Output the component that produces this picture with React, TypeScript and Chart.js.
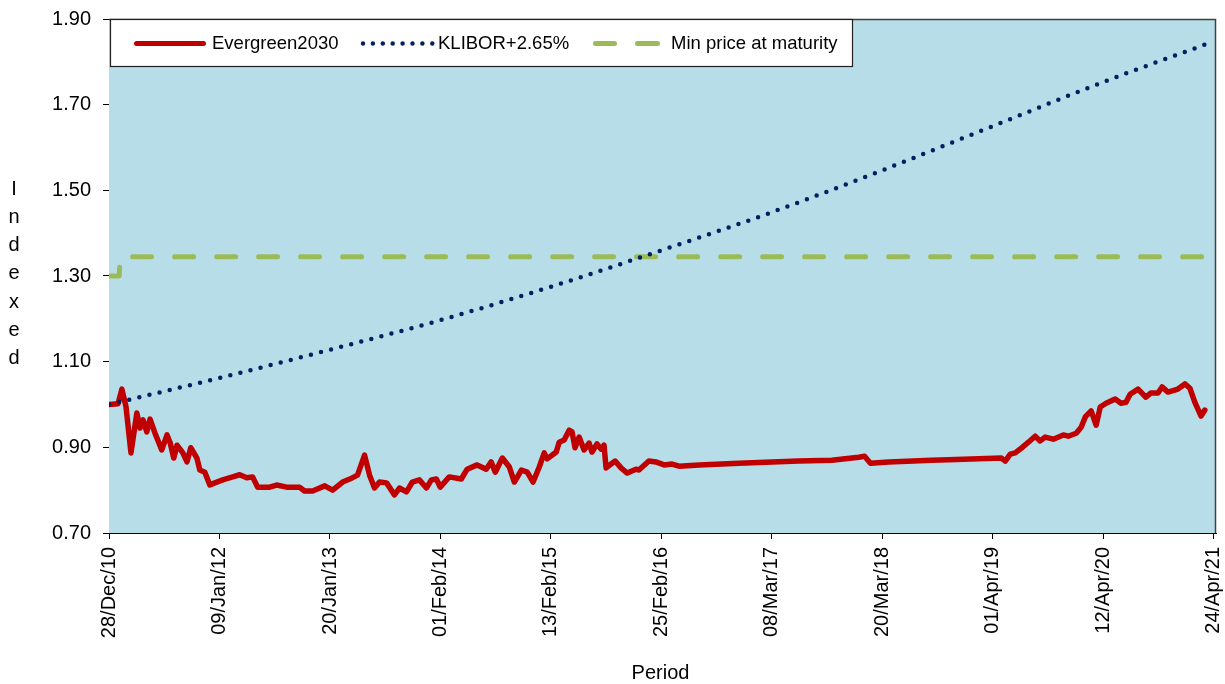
import React, { useEffect, useRef } from 'react';
import { Chart, registerables } from 'chart.js';

Chart.register(...registerables);

// X axis: day offsets from 28/Dec/10 and their labels
const tickDays = [0, 377, 754, 1131, 1508, 1885, 2262, 2639, 3016, 3393, 3770];
const tickLabels = [
  '28/Dec/10', '09/Jan/12', '20/Jan/13', '01/Feb/14', '13/Feb/15', '25/Feb/16',
  '08/Mar/17', '20/Mar/18', '01/Apr/19', '12/Apr/20', '24/Apr/21',
];
const yTicks = [0.7, 0.9, 1.1, 1.3, 1.5, 1.7, 1.9];

// Evergreen2030 (day offset, indexed value)
const evergreenDays = [
  0, 31, 44, 58, 75, 95, 106, 116, 129, 140, 157, 180, 198, 208, 221, 232, 252, 266, 279, 300,
  310, 327, 344, 361, 388, 422, 446, 470, 490, 507, 548, 572, 606, 650,
  667, 695, 736, 763, 797, 828, 848, 872, 889, 906, 923, 947, 974,
  991, 1015, 1035, 1059, 1083, 1100, 1117, 1130, 1161, 1202, 1222, 1256, 1287, 1304, 1318, 1342,
  1366, 1383, 1407, 1427, 1447, 1468, 1485, 1495, 1526, 1536, 1553, 1570, 1580, 1590, 1604, 1621,
  1638, 1648, 1665, 1679, 1689, 1696, 1713, 1727, 1747, 1768, 1798, 1808, 1842, 1866, 1894, 1921,
  1945, 2013, 2149, 2353, 2466, 2558, 2578, 2598, 2660, 2806, 2864,
  3045, 3058, 3075, 3092, 3109, 3137, 3160, 3177, 3194, 3222, 3256, 3273, 3300, 3317, 3331, 3351,
  3368, 3382, 3402, 3433, 3453, 3470, 3484, 3511, 3538, 3555, 3579, 3593, 3613, 3647, 3671, 3688,
  3705, 3726, 3739,
];
const evergreenValues = [
  1.0, 1.002, 1.036, 0.995, 0.887, 0.98, 0.945, 0.964, 0.936, 0.966, 0.933, 0.894, 0.929, 0.912, 0.875, 0.905, 0.887, 0.866, 0.899, 0.875,
  0.847, 0.842, 0.812, 0.817, 0.824, 0.831, 0.836, 0.829, 0.831, 0.807, 0.807, 0.812, 0.807, 0.807,
  0.798, 0.798, 0.81, 0.8, 0.819, 0.828, 0.835, 0.882, 0.835, 0.805, 0.819, 0.817, 0.789,
  0.805, 0.796, 0.819, 0.824, 0.805, 0.824, 0.826, 0.807, 0.831, 0.826, 0.849, 0.859, 0.849, 0.866, 0.842, 0.875,
  0.854, 0.819, 0.847, 0.842, 0.819, 0.854, 0.887, 0.873, 0.889, 0.912, 0.917, 0.94, 0.936, 0.899, 0.924, 0.894,
  0.91, 0.889, 0.908, 0.896, 0.905, 0.852, 0.861, 0.868, 0.852, 0.84, 0.849, 0.847, 0.868, 0.866, 0.859, 0.861,
  0.856, 0.859, 0.863, 0.868, 0.87, 0.877, 0.879, 0.863, 0.866, 0.87, 0.871,
  0.875, 0.868, 0.884, 0.887, 0.896, 0.912, 0.926, 0.915, 0.924, 0.919, 0.929, 0.926, 0.933, 0.947, 0.971, 0.985,
  0.952, 0.994, 1.003, 1.013, 1.003, 1.005, 1.024, 1.036, 1.017, 1.027, 1.027, 1.041, 1.029, 1.036, 1.048, 1.038,
  1.005, 0.973, 0.987,
];

// KLIBOR+2.65%
const kliborDays = [0, 377, 754, 1131, 1508, 1885, 2262, 2639, 3016, 3393, 3738];
const kliborValues = [1.0, 1.062, 1.128, 1.197, 1.275, 1.36, 1.449, 1.547, 1.65, 1.753, 1.84];

// Min price at maturity
const minPriceDays = [0, 35, 38, 3740];
const minPriceValues = [1.3, 1.3, 1.345, 1.345];

const FONT = '"Liberation Sans", Arial, sans-serif';

const toPoints = (xs: number[], ys: number[]) => xs.map((x, i) => ({ x, y: ys[i] }));

const decorPlugin = {
  id: 'decor',
  beforeDatasetsDraw(chart: any) {
    const { ctx, chartArea: a } = chart;
    ctx.save();
    ctx.fillStyle = '#B7DDE8';
    ctx.fillRect(a.left, a.top, a.right - a.left, a.bottom - a.top);
    ctx.restore();
  },
  afterDatasetsDraw(chart: any) {
    const { ctx, chartArea: a } = chart;
    ctx.save();
    // plot border (top/right)
    ctx.strokeStyle = '#404040';
    ctx.lineWidth = 1.5;
    ctx.beginPath();
    ctx.moveTo(a.left, a.top + 0.5);
    ctx.lineTo(a.right - 0.5, a.top + 0.5);
    ctx.lineTo(a.right - 0.5, a.bottom);
    ctx.stroke();

    // legend box
    const lx = a.left + 1;
    const ly = a.top;
    const lw = 743;
    const lh = 48;
    ctx.fillStyle = '#FFFFFF';
    ctx.fillRect(lx, ly, lw, lh);
    ctx.strokeStyle = '#202020';
    ctx.lineWidth = 1.2;
    ctx.strokeRect(lx + 0.5, ly + 0.5, lw - 1, lh - 1);
    const cy = ly + 24.5;
    ctx.lineCap = 'round';
    // red sample
    ctx.strokeStyle = '#C00000';
    ctx.lineWidth = 5;
    ctx.beginPath();
    ctx.moveTo(lx + 26.5, cy);
    ctx.lineTo(lx + 93.5, cy);
    ctx.stroke();
    // dotted sample
    ctx.strokeStyle = '#002060';
    ctx.lineWidth = 4.5;
    ctx.setLineDash([0, 9.9]);
    ctx.beginPath();
    ctx.moveTo(lx + 253, cy);
    ctx.lineTo(lx + 323, cy);
    ctx.stroke();
    ctx.setLineDash([]);
    // green sample
    ctx.strokeStyle = '#9BBB59';
    ctx.lineWidth = 5;
    ctx.beginPath();
    ctx.moveTo(lx + 485.5, cy);
    ctx.lineTo(lx + 504.5, cy);
    ctx.moveTo(lx + 527.5, cy);
    ctx.lineTo(lx + 547.5, cy);
    ctx.stroke();
    // texts
    ctx.fillStyle = '#000000';
    ctx.font = `18.5px ${FONT}`;
    ctx.textBaseline = 'middle';
    ctx.textAlign = 'left';
    ctx.fillText('Evergreen2030', lx + 102, cy);
    ctx.fillText('KLIBOR+2.65%', lx + 328, cy);
    ctx.fillText('Min price at maturity', lx + 561, cy);

    // y title: stacked letters
    ctx.font = `20px ${FONT}`;
    ctx.textAlign = 'center';
    const letters = 'Indexed'.split('');
    letters.forEach((ch, i) => ctx.fillText(ch, 14, 189 + i * 28.3));

    // x title
    ctx.fillText('Period', (a.left + a.right) / 2 - 2, 673);
    ctx.restore();
  },
};

export default function App() {
  const ref = useRef<HTMLCanvasElement | null>(null);

  useEffect(() => {
    document.body.style.margin = '0';
    const canvas = ref.current;
    if (!canvas) return;
    const chart = new Chart(canvas, {
      type: 'line',
      data: {
        datasets: [
          {
            label: 'KLIBOR+2.65%',
            data: toPoints(kliborDays, kliborValues),
            borderColor: '#002060',
            borderWidth: 4.5,
            borderDash: [0, 10.4],
            borderCapStyle: 'round',
            pointRadius: 0,
            tension: 0.4,
            cubicInterpolationMode: 'monotone',
            fill: false,
          },
          {
            label: 'Evergreen2030',
            data: toPoints(evergreenDays, evergreenValues),
            borderColor: '#C00000',
            borderWidth: 5.5,
            borderJoinStyle: 'round',
            borderCapStyle: 'round',
            pointRadius: 0,
            tension: 0,
            fill: false,
          },
          {
            label: 'Min price at maturity',
            data: toPoints(minPriceDays, minPriceValues),
            borderColor: '#9BBB59',
            borderWidth: 5,
            borderDash: [19, 23],
            borderCapStyle: 'round',
            borderJoinStyle: 'round',
            pointRadius: 0,
            tension: 0,
            fill: false,
          },
        ],
      },
      options: {
        animation: false,
        responsive: true,
        maintainAspectRatio: false,
        layout: { padding: { top: 19, right: 9, left: 0, bottom: 0 } },
        plugins: { legend: { display: false }, tooltip: { enabled: false } },
        scales: {
          x: {
            type: 'linear',
            min: 0,
            max: 3777,
            afterBuildTicks: (s: any) => {
              s.ticks = tickDays.map((v) => ({ value: v }));
            },
            afterFit: (s: any) => {
              s.height = 151;
              s.paddingLeft = 0;
              s.paddingRight = 0;
            },
            grid: {
              display: true,
              drawOnChartArea: false,
              drawTicks: true,
              tickLength: 6,
              color: '#000000',
            },
            border: { display: true, color: '#000000', width: 1 },
            ticks: {
              autoSkip: false,
              maxRotation: 90,
              minRotation: 90,
              padding: 8,
              color: '#000000',
              font: { family: FONT, size: 20 },
              callback: (v: any) => {
                const i = tickDays.indexOf(Number(v));
                return i >= 0 ? tickLabels[i] : '';
              },
            },
          },
          y: {
            type: 'linear',
            min: 0.7,
            max: 1.9,
            afterBuildTicks: (s: any) => {
              s.ticks = yTicks.map((v) => ({ value: v }));
            },
            afterFit: (s: any) => {
              s.width = 109;
              s.paddingTop = 0;
              s.paddingBottom = 0;
            },
            grid: {
              display: true,
              drawOnChartArea: false,
              drawTicks: true,
              tickLength: 6,
              color: '#000000',
            },
            border: { display: true, color: '#000000', width: 1 },
            ticks: {
              padding: 12,
              color: '#000000',
              font: { family: FONT, size: 20 },
              callback: (v: any) => Number(v).toFixed(2),
            },
          },
        },
      },
      plugins: [decorPlugin],
    } as any);
    return () => chart.destroy();
  }, []);

  return (
    <div style={{ width: 1225, height: 684, position: 'relative' }}>
      <canvas ref={ref} />
    </div>
  );
}
